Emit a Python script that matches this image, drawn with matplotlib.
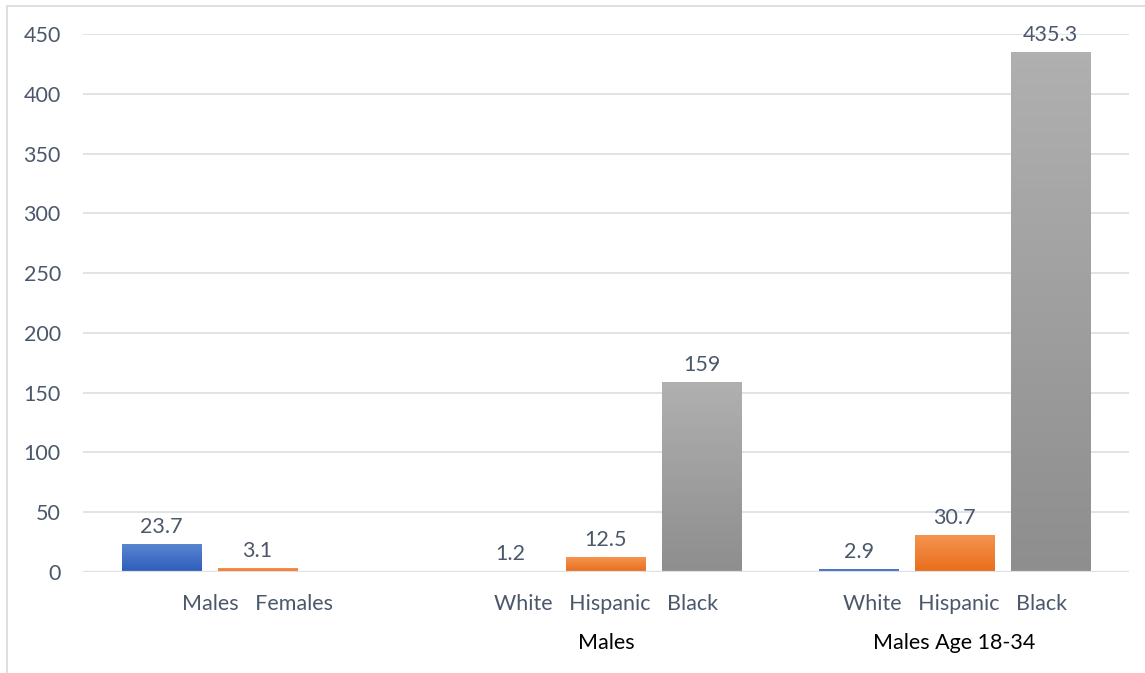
import matplotlib.pyplot as plt
import numpy as np
from matplotlib.colors import LinearSegmentedColormap
from matplotlib.patches import Rectangle

plt.rcParams['font.family'] = ['Lato', 'DejaVu Sans']

# three clustered series, one value per category (nan = no bar)
cat_labels = ['Males   Females', 'White   Hispanic   Black', 'White   Hispanic   Black']
group_labels = ['', 'Males', 'Males Age 18-34']
s1 = [23.7, 1.2, 2.9]
s2 = [3.1, 12.5, 30.7]
s3 = [np.nan, 159, 435.3]

series = [s1, s2, s3]
grad = [('#5b86d2', '#2d5dbb'), ('#f5944f', '#e86d1b'), ('#b0b0b0', '#8e8e8e')]
txt_col = '#4b586b'

fig = plt.figure(figsize=(11.45, 6.73), dpi=100)
W, H = 1145, 673
ax = fig.add_axes([83 / W, 1 - 572 / H, (1129 - 83) / W, 538 / H])

# chart area frame
fig.patches.append(Rectangle((7 / W, -0.1), 1.2, 1 - 6 / H + 0.1, transform=fig.transFigure,
                             fill=False, edgecolor='#d9d9d9', lw=1.2))

x = np.arange(len(cat_labels))
step, bw = 0.275, 0.227
for k, vals in enumerate(series):
    v = np.array(vals, dtype=float)
    ok = ~np.isnan(v)
    bars = ax.bar(x[ok] + (k - 1) * step, v[ok], width=bw, color=grad[k][1], zorder=2)
    cmap = LinearSegmentedColormap.from_list('g%d' % k, [grad[k][0], grad[k][1]])
    for b, val in zip(bars, v[ok]):
        bx, by = b.get_x(), b.get_y()
        im = ax.imshow(np.linspace(0, 1, 64).reshape(-1, 1), cmap=cmap, aspect='auto',
                       extent=(bx, bx + b.get_width(), by, by + b.get_height()),
                       origin='upper', zorder=2.5)
        im.set_clip_path(b)
        ax.annotate('%g' % val, (bx + b.get_width() / 2, val), xytext=(0, 5),
                    textcoords='offset points', ha='center', va='bottom',
                    fontsize=15.5, color=txt_col)

ax.set_xlim(-0.5, 2.5)
ax.set_ylim(0, 450)
ax.set_yticks(np.arange(0, 451, 50))
ax.yaxis.grid(True, color='#dde1e6', lw=1.3, zorder=0)
ax.set_axisbelow(True)
ax.axhline(0, color='#dde1e6', lw=1.6, zorder=4)
for s in ax.spines.values():
    s.set_visible(False)
ax.tick_params(axis='both', length=0, labelsize=15.5, labelcolor=txt_col)
ax.tick_params(axis='y', pad=16)
ax.tick_params(axis='x', pad=16)
ax.set_xticks(x)
ax.set_xticklabels(cat_labels)

for i, g in enumerate(group_labels):
    ax.text(i, -71 / 538, g, transform=ax.get_xaxis_transform(), ha='center', va='center',
            fontsize=15.5, color='black')

fig.savefig('out.png', dpi=100)
